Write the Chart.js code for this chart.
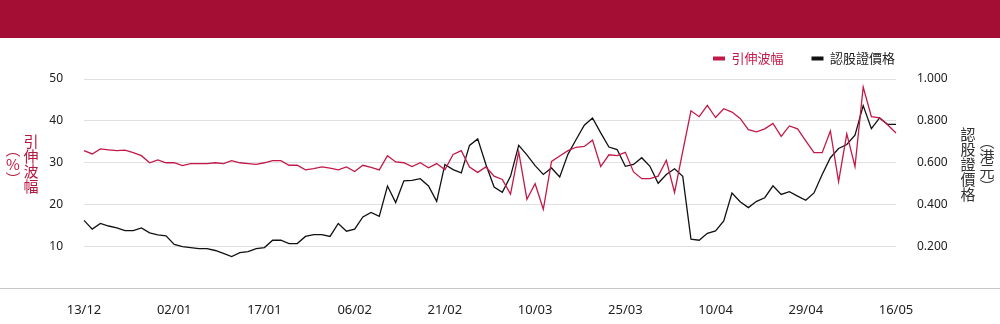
<!DOCTYPE html>
<html lang="zh-Hant">
<head>
<meta charset="utf-8">
<title>引伸波幅 / 認股證價格</title>
<script src="https://cdn.jsdelivr.net/npm/chart.js@4.4.1/dist/chart.umd.min.js"></script>
<style>
  html, body { margin: 0; padding: 0; background: #fff; }
  #wrap { position: relative; width: 1000px; height: 324px; overflow: hidden; }
  .banner { height: 38px; background: #a50e34; }
  .plot { position: absolute; left: 0; top: 38px; width: 1000px; height: 286px; }
  .vt {
    position: absolute;
    writing-mode: vertical-rl;
    text-orientation: upright;
    font-family: "Noto Sans CJK TC", sans-serif;
    font-size: 15px;
    line-height: 1;
    transform: translate(-50%, -50%);
    white-space: nowrap;
  }
</style>
</head>
<body>
<div id="wrap">
  <div class="banner"></div>
  <div class="plot"><canvas id="ivChart" width="1000" height="286"></canvas></div>
  <span class="vt" style="left:31px; top:164px; color:#b8173f;">引伸波幅</span>
  <span class="vt" style="left:13px; top:164px; color:#b8173f;">（%）</span>
  <span class="vt" style="left:968px; top:164px; color:#333;">認股證價格</span>
  <span class="vt" style="left:987px; top:164px; color:#333;">（港元）</span>
</div>
<script>
// 交易日
const dates = [
  '13/12','16/12','17/12','18/12','19/12','20/12','23/12','24/12','27/12','30/12','31/12',
  '02/01','03/01','06/01','07/01','08/01','09/01','10/01','13/01','14/01','15/01','16/01',
  '17/01','20/01','21/01','22/01','23/01','24/01','27/01','28/01','29/01','04/02','05/02',
  '06/02','07/02','10/02','11/02','12/02','13/02','14/02','17/02','18/02','19/02','20/02',
  '21/02','24/02','25/02','26/02','27/02','28/02','03/03','04/03','05/03','06/03','07/03',
  '10/03','11/03','12/03','13/03','14/03','17/03','18/03','19/03','20/03','21/03','24/03',
  '25/03','26/03','27/03','28/03','31/03','01/04','02/04','03/04','07/04','08/04','09/04',
  '10/04','11/04','14/04','15/04','16/04','17/04','22/04','23/04','24/04','25/04','28/04',
  '29/04','30/04','02/05','05/05','07/05','08/05','09/05','12/05','13/05','14/05','15/05',
  '16/05'
];

// 引伸波幅 (%)
const impliedVol = [
  32.9, 32.1, 33.3, 33.1, 32.9, 33.0, 32.4, 31.7, 30.0, 30.7, 30.0,
  30.0, 29.3, 29.8, 29.8, 29.8, 30.0, 29.8, 30.5, 30.0, 29.8, 29.6,
  30.0, 30.5, 30.5, 29.4, 29.4, 28.3, 28.6, 29.0, 28.7, 28.3, 29.0,
  27.9, 29.4, 28.9, 28.3, 31.7, 30.2, 30.0, 29.1, 30.0, 28.8, 29.8,
  28.3, 32.0, 32.9, 29.0, 27.7, 29.0, 26.8, 26.0, 22.5, 32.6, 21.3,
  25.0, 18.9, 30.3, 31.6, 32.9, 33.7, 33.9, 35.4, 29.1, 31.9, 31.7,
  32.5, 27.8, 26.2, 26.2, 26.8, 30.6, 22.9, 32.7, 42.4, 41.0, 43.7,
  40.8, 42.9, 42.1, 40.6, 37.9, 37.4, 38.1, 39.4, 36.3, 38.8, 38.1,
  35.2, 32.4, 32.4, 37.6, 25.5, 36.9, 29.1, 48.1, 41.0, 40.7, 39.0,
  37.1
];

// 認股證價格 (港元)
const warrantPrice = [
  0.325, 0.283, 0.310, 0.298, 0.289, 0.276, 0.276, 0.289, 0.265, 0.256, 0.251,
  0.210, 0.200, 0.195, 0.190, 0.190, 0.181, 0.167, 0.152, 0.171, 0.176, 0.190,
  0.195, 0.230, 0.230, 0.214, 0.214, 0.248, 0.257, 0.257, 0.248, 0.310, 0.273,
  0.283, 0.341, 0.363, 0.344, 0.489, 0.410, 0.514, 0.516, 0.524, 0.489, 0.416,
  0.592, 0.567, 0.552, 0.683, 0.714, 0.592, 0.484, 0.459, 0.535, 0.683, 0.638,
  0.586, 0.544, 0.575, 0.532, 0.640, 0.711, 0.779, 0.814, 0.743, 0.675, 0.663,
  0.583, 0.592, 0.624, 0.583, 0.502, 0.544, 0.571, 0.535, 0.235, 0.230, 0.263,
  0.275, 0.322, 0.455, 0.414, 0.386, 0.416, 0.433, 0.490, 0.449, 0.462, 0.441,
  0.421, 0.456, 0.544, 0.624, 0.668, 0.687, 0.732, 0.873, 0.763, 0.814, 0.783,
  0.783
];

// x 軸顯示的日期
const xTickLabels = ['13/12','02/01','17/01','06/02','21/02','10/03','25/03','10/04','29/04','16/05'];

const RED = '#c21a48';
const BLACK = '#111';

// 圖例高度固定, 並往上移、往右靠齊
const legendBox = {
  id: 'legendBox',
  beforeUpdate(chart) {
    const lg = chart.legend;
    if (!lg || lg._fixed) return;
    const fit = lg.fit;
    lg.fit = function () { fit.call(this); this.height = 41; };
    lg._fixed = true;
  },
  afterLayout(chart) {
    const lg = chart.legend;
    lg.top = -14;
    lg.bottom = 27;
    lg.right += 27;
  }
};

// 底部橫線 (全寬)
const baseLine = {
  id: 'baseLine',
  afterDraw(chart) {
    const ctx = chart.ctx;
    const y = Math.round(chart.scales.yVol.getPixelForValue(0)) + 0.5;
    ctx.save();
    ctx.strokeStyle = '#c8c8c8';
    ctx.lineWidth = 1;
    ctx.beginPath();
    ctx.moveTo(0, y);
    ctx.lineTo(chart.width, y);
    ctx.stroke();
    ctx.restore();
  }
};

Chart.defaults.font.family = '"Noto Sans", "Noto Sans CJK TC", sans-serif';
Chart.defaults.color = '#222';

const ctx = document.getElementById('ivChart').getContext('2d');
new Chart(ctx, {
  type: 'line',
  data: {
    labels: dates,
    datasets: [{
      label: '引伸波幅',
      data: impliedVol,
      yAxisID: 'yVol',
      borderColor: RED,
      backgroundColor: RED,
      borderWidth: 1.3,
      pointRadius: 0,
      tension: 0
    }, {
      label: '認股證價格',
      data: warrantPrice,
      yAxisID: 'yPrice',
      borderColor: BLACK,
      backgroundColor: BLACK,
      borderWidth: 1.3,
      pointRadius: 0,
      tension: 0
    }]
  },
  options: {
    responsive: false,
    animation: false,
    layout: { padding: 0 },
    plugins: {
      tooltip: { enabled: false },
      legend: {
        position: 'top',
        align: 'end',
        fullSize: false,
        labels: {
          boxWidth: 12,
          boxHeight: 4,
          padding: 28,
          font: { family: '"Noto Sans CJK TC", sans-serif', size: 13 },
          generateLabels(chart) {
            return chart.data.datasets.map((ds, i) => ({
              text: ds.label,
              fillStyle: ds.borderColor,
              strokeStyle: ds.borderColor,
              lineWidth: 0,
              fontColor: i === 0 ? RED : '#222',
              datasetIndex: i,
              hidden: false
            }));
          }
        }
      }
    },
    scales: {
      x: {
        grid: { display: false },
        border: { display: false },
        ticks: {
          autoSkip: false,
          maxRotation: 0,
          padding: 6,
          font: { size: 13 },
          color: '#222',
          callback(v, i) { return xTickLabels.includes(dates[i]) ? dates[i] : ''; }
        }
      },
      yVol: {
        position: 'left',
        min: 0,
        max: 50,
        afterFit(scale) { scale.width = 84; },
        grid: { color: '#e0e0e0', drawTicks: false },
        border: { display: false },
        ticks: {
          stepSize: 10,
          padding: 21,
          font: { size: 12 },
          callback(v) { return v === 0 ? '' : v; }
        }
      },
      yPrice: {
        position: 'right',
        min: 0,
        max: 1,
        afterFit(scale) { scale.width = 104; },
        grid: { display: false, drawTicks: false },
        border: { display: false },
        ticks: {
          stepSize: 0.2,
          padding: 21,
          font: { size: 12 },
          callback(v) { return v === 0 ? '' : v.toFixed(3); }
        }
      }
    }
  },
  plugins: [legendBox, baseLine]
});
</script>
</body>
</html>
